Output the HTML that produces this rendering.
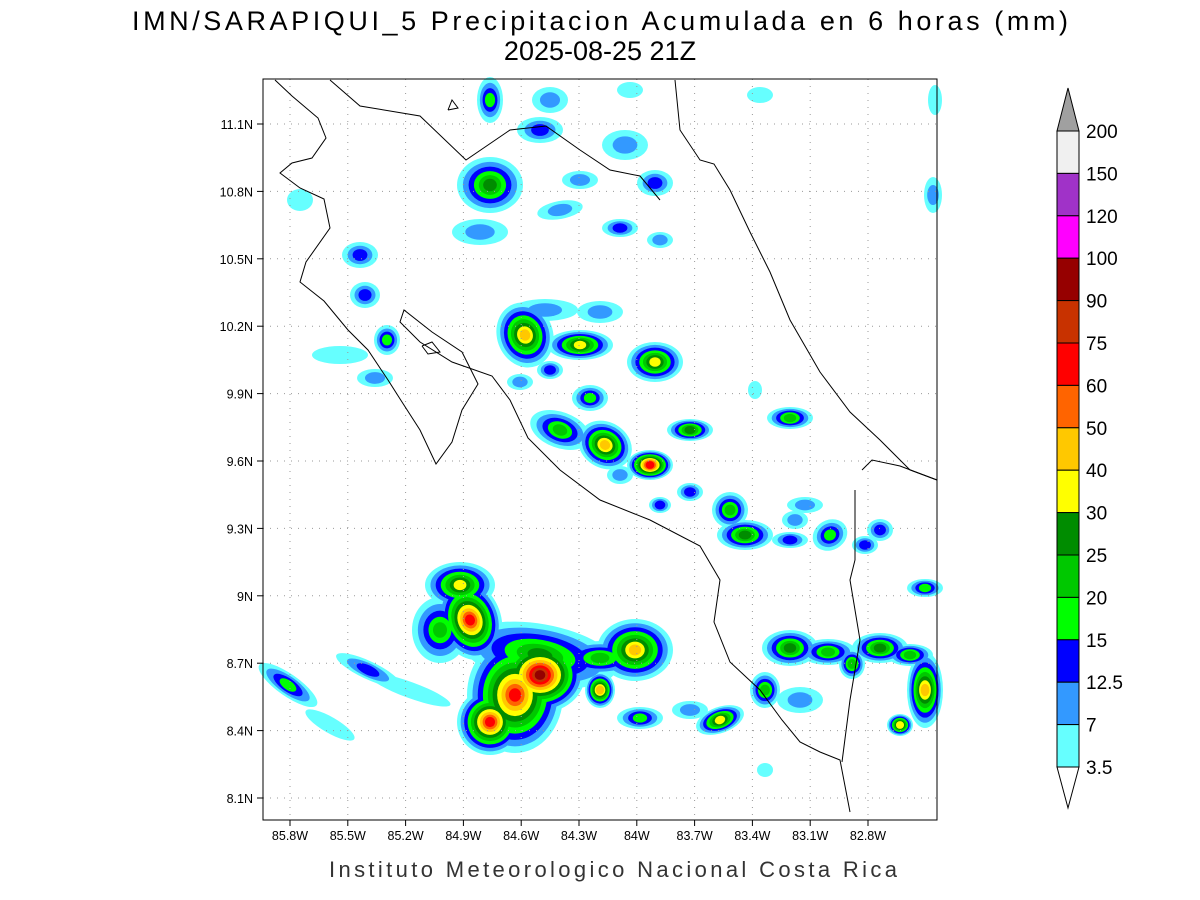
<!DOCTYPE html>
<html><head><meta charset="utf-8"><style>
html,body{margin:0;padding:0;background:#fff;width:1200px;height:900px;overflow:hidden}
svg{display:block}
text{font-family:"Liberation Sans",sans-serif}
</style></head><body>
<svg id="s" width="1200" height="900" xmlns="http://www.w3.org/2000/svg">
<rect width="1200" height="900" fill="#fff"/>
<g id="blobs"></g>
<g id="grid" stroke="#999" stroke-width="1" stroke-dasharray="1,6"></g>
<g fill="none" stroke="#000" stroke-width="1">
<polyline points="275,80 292,96 318,118 326,138 312,158 292,163 280,173 300,188 324,199 330,228 306,262 300,282 324,301 348,330 368,350 388,380 402,402 420,430 436,464 452,442 462,410 478,384 462,352 432,332 404,310 400,322 420,342 452,362 492,376 510,400 528,438 560,470 600,500 650,520 700,546 720,580 714,622 730,662 760,690 782,720 800,742 820,752 840,760 850,812"/>
<polyline points="330,80 360,106 420,116 466,160 510,130 546,126 580,150 610,170 640,176 660,200"/>
<polyline points="675,80 680,130 700,160 714,164 730,190 750,232 770,272 790,320 820,372 850,412 880,440 910,470 937,480"/>
<polyline points="862,470 872,460 900,466 937,480"/>
<polyline points="855,490 855,560 850,580 860,640 850,700 842,762"/>
<polyline points="422,346 432,342 440,352 428,354 422,346"/>
<polyline points="448,110 452,100 458,108 448,110"/>
</g>
<rect x="263" y="79" width="674" height="741" fill="none" stroke="#000" stroke-width="1"/>
<g id="ticks" font-size="12.5" fill="#000"></g>
<text x="600" y="30" font-size="27" text-anchor="middle" textLength="936">IMN/SARAPIQUI_5 Precipitacion Acumulada en 6 horas (mm)</text>
<text x="600" y="60" font-size="27" text-anchor="middle">2025-08-25 21Z</text>
<text x="613" y="877" font-size="22" text-anchor="middle" fill="#333" textLength="568">Instituto Meteorologico Nacional Costa Rica</text>
<g id="cb" stroke="#000" stroke-width="1"></g>
</svg>
<script>
var NS="http://www.w3.org/2000/svg";
function el(p,t,a,txt){var e=document.createElementNS(NS,t);for(var k in a)e.setAttribute(k,a[k]);if(txt!=null)e.textContent=txt;p.appendChild(e);return e;}
var C=["#66ffff","#3399ff","#0000ff","#00ff00","#00c800","#008c00","#ffff00","#ffc800","#ff6400","#ff0000","#c83200","#960000"];
var B=[[490,100,10,20,0,3],[490,185,30,25,0,5],[480,232,25,10,0,1],[550,100,15,10,0,1],[540,130,20,10,0,2],[580,180,15,6,0,1],[560,210,20,6,-10,1],[625,145,20,12,0,1],[655,183,15,10,0,2],[620,228,15,6,0,2],[660,240,10,5,0,1],[360,255,15,10,0,2],[365,295,12,10,0,2],[300,200,10,8,0,0],[630,90,10,5,0,0],[760,95,10,5,0,0],[933,195,6,15,0,1],[935,100,4,12,0,0],
[525,335,25,30,-20,7],[580,345,30,12,0,6],[545,310,30,8,0,1],[600,312,20,8,0,1],[655,362,25,17,0,6],[550,370,10,6,0,2],[520,382,10,5,0,1],[387,340,10,12,0,3],[340,355,25,6,0,0],[375,378,15,6,0,1],[590,398,15,10,0,3],[560,430,28,15,20,4],[605,445,25,20,30,7],[650,465,20,12,0,9],[690,430,20,8,0,5],[690,492,10,6,0,2],[660,505,8,5,0,2],[790,418,20,8,0,4],[755,390,4,6,0,0],[620,475,10,6,0,1],
[730,510,15,15,0,4],[745,535,25,12,0,5],[790,540,15,5,0,2],[830,535,15,12,-30,3],[880,530,10,8,0,2],[805,505,15,5,0,1],[865,545,10,6,0,2],[925,588,15,6,0,3],[795,520,10,6,0,1],
[460,585,32,20,0,6],[470,620,28,38,-20,9],[515,695,45,55,0,9],[540,675,42,35,0,11],[490,722,30,30,0,9],[540,655,75,28,10,5],[440,630,25,30,0,4],
[635,650,35,28,0,7],[600,690,12,15,0,7],[600,658,40,14,0,4],[720,720,22,10,-20,6],[765,690,12,15,0,4],[790,648,25,15,0,5],[828,652,25,10,0,4],[852,664,10,12,0,4],[880,648,25,12,0,5],[910,655,20,8,0,4],[925,690,15,35,0,7],[900,725,10,8,0,6],[640,718,20,8,0,3],[690,710,15,6,0,1],[288,685,32,8,35,3],[368,670,32,6,25,2],[410,690,40,5,20,0],[330,725,25,5,30,0],[800,700,20,10,0,1],[765,770,5,4,0,0]];
var g=document.getElementById("blobs");
for(var L=0;L<12;L++){B.forEach(function(b){if(b[5]<L)return;var f=Math.pow(1-L/(b[5]+1.2),1.25);el(g,"ellipse",{cx:b[0],cy:b[1],rx:b[2]*f+3,ry:b[3]*f+3,transform:"rotate("+b[4]+" "+b[0]+" "+b[1]+")",fill:C[L]});});}
var gr=document.getElementById("grid"),tk=document.getElementById("ticks");
var lons=["85.8W","85.5W","85.2W","84.9W","84.6W","84.3W","84W","83.7W","83.4W","83.1W","82.8W"];
lons.forEach(function(t,i){var x=290+i*57.8;el(gr,"line",{x1:x,y1:79,x2:x,y2:820});el(tk,"line",{x1:x,y1:820,x2:x,y2:826,stroke:"#000"});el(tk,"text",{x:x,y:840,"text-anchor":"middle"},t);});
var lats=["11.1N","10.8N","10.5N","10.2N","9.9N","9.6N","9.3N","9N","8.7N","8.4N","8.1N"];
lats.forEach(function(t,i){var y=124+i*67.4;el(gr,"line",{x1:263,y1:y,x2:937,y2:y});el(tk,"line",{x1:257,y1:y,x2:263,y2:y,stroke:"#000"});el(tk,"text",{x:253,y:y+5,"text-anchor":"end"},t);});
var cb=document.getElementById("cb");
var cols=["#f0f0f0","#a032c8","#ff00ff","#960000","#c83200","#ff0000","#ff6400","#ffc800","#ffff00","#008c00","#00c800","#00ff00","#0000ff","#3399ff","#66ffff"];
var labs=["200","150","120","100","90","75","60","50","40","30","25","20","15","12.5","7","3.5"];
var h=(767-131)/15;
el(cb,"polygon",{points:"1057,131 1079,131 1068,88",fill:"#a0a0a0"});
cols.forEach(function(c,i){el(cb,"rect",{x:1057,y:131+i*h,width:22,height:h,fill:c});});
el(cb,"polygon",{points:"1057,767 1079,767 1068,808",fill:"#fff"});
labs.forEach(function(t,i){el(document.getElementById("s"),"text",{x:1086,y:131+i*h+7,"font-size":"19"},t);});
</script>
</body></html>
